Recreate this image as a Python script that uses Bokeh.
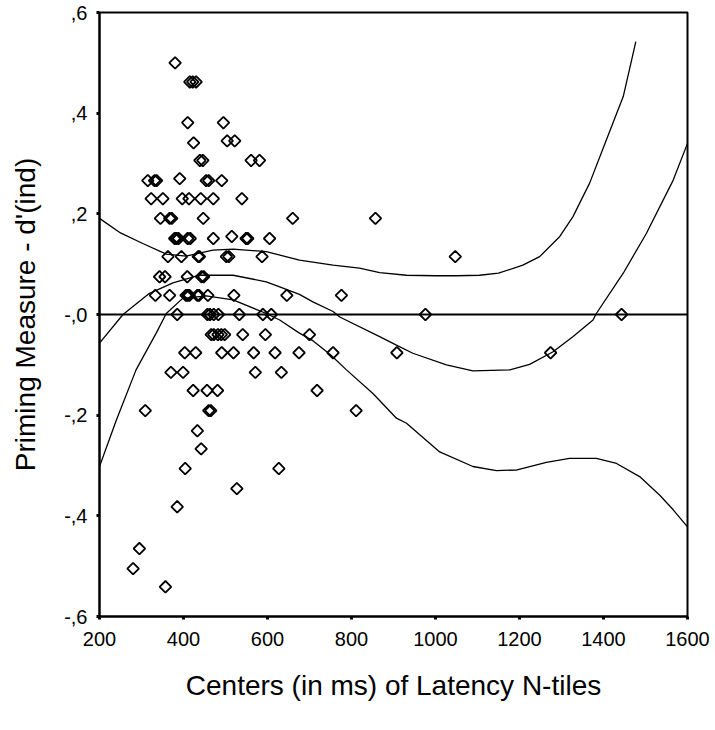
import numpy as np
from bokeh.plotting import figure
from bokeh.models import FixedTicker, Range1d, Span
from bokeh.embed import file_html
from bokeh.resources import INLINE

# ---- data: scatter points (latency N-tile centers in ms, priming d'(ind)) ----
latency_ms = [
    380,
    415, 422, 430,
    410, 495,
    424,
    504, 522,
    439, 446, 561, 581,
    315, 331, 336, 454, 460, 491, 391,
    323, 351, 397, 413, 441, 471, 539,
    345, 367, 372, 447, 660, 857,
    379, 383, 388, 410, 416, 471, 549, 553, 605, 515,
    363, 395, 435, 438, 502, 508, 587, 1047,
    343, 356, 409, 443, 448,
    333, 367, 406, 410, 414, 433, 437, 458, 520, 646, 776,
    385, 457, 463, 472, 483, 533, 589, 609, 976, 1443,
    466, 472, 482, 490, 498, 541, 595, 700,
    403, 429, 491, 519, 567, 618, 675, 756, 908, 1274,
    370, 399, 571, 633,
    423, 456, 481, 718,
    309, 460, 465, 811,
    433,
    442,
    404, 627,
    527,
    385,
    295,
    280,
    357,
]
priming_d = [
    0.500,
    0.462, 0.462, 0.462,
    0.381, 0.381,
    0.341,
    0.345, 0.345,
    0.306, 0.306, 0.306, 0.306,
    0.266, 0.266, 0.266, 0.266, 0.266, 0.266, 0.270,
    0.230, 0.230, 0.230, 0.230, 0.230, 0.230, 0.230,
    0.191, 0.191, 0.191, 0.191, 0.191, 0.191,
    0.151, 0.151, 0.151, 0.151, 0.151, 0.151, 0.151, 0.151, 0.151, 0.155,
    0.115, 0.115, 0.115, 0.115, 0.115, 0.115, 0.115, 0.115,
    0.075, 0.075, 0.075, 0.075, 0.075,
    0.038, 0.038, 0.038, 0.038, 0.038, 0.038, 0.038, 0.038, 0.038, 0.038, 0.038,
    0.0, 0.0, 0.0, 0.0, 0.0, 0.0, 0.0, 0.0, 0.0, 0.0,
    -0.040, -0.040, -0.040, -0.040, -0.040, -0.040, -0.040, -0.040,
    -0.076, -0.076, -0.076, -0.076, -0.076, -0.076, -0.076, -0.076, -0.076, -0.076,
    -0.115, -0.115, -0.115, -0.115,
    -0.151, -0.151, -0.151, -0.151,
    -0.191, -0.191, -0.191, -0.191,
    -0.231,
    -0.267,
    -0.306, -0.306,
    -0.346,
    -0.382,
    -0.465,
    -0.505,
    -0.541,
]

# ---- fitted curve and confidence band ----
upper_x = [200, 250, 303, 359, 406, 470, 518, 597, 676, 756, 819, 867, 931,
           1000, 1050, 1105, 1150, 1208, 1248, 1296, 1327, 1367, 1407, 1447, 1477]
upper_y = [0.191, 0.162, 0.141, 0.120, 0.116, 0.128, 0.130, 0.125, 0.108, 0.098,
           0.092, 0.083, 0.078, 0.077, 0.077, 0.078, 0.082, 0.098, 0.115, 0.155,
           0.194, 0.261, 0.347, 0.433, 0.542]

fit_x = [200, 256, 319, 375, 438, 518, 597, 629, 676, 708, 756, 772, 867, 907,
         946, 1026, 1089, 1177, 1224, 1280, 1327, 1375, 1383, 1447, 1502, 1566, 1600]
fit_y = [-0.057, 0.0, 0.042, 0.063, 0.078, 0.078, 0.065, 0.055, 0.040, 0.025,
         0.006, -0.005, -0.044, -0.061, -0.077, -0.100, -0.112, -0.110, -0.099,
         -0.074, -0.044, -0.011, 0.002, 0.082, 0.161, 0.267, 0.340]

lower_x = [200, 240, 287, 335, 359, 398, 454, 518, 597, 629, 676, 708, 750, 788,
           851, 907, 931, 1010, 1089, 1145, 1192, 1264, 1319, 1383, 1431, 1486,
           1534, 1566, 1600]
lower_y = [-0.302, -0.210, -0.110, -0.037, 0.002, 0.032, 0.037, 0.029, 0.002,
           -0.011, -0.037, -0.052, -0.080, -0.110, -0.157, -0.206, -0.216,
           -0.273, -0.302, -0.310, -0.309, -0.294, -0.286, -0.286, -0.296,
           -0.322, -0.359, -0.388, -0.422]

x_ticks = [200, 400, 600, 800, 1000, 1200, 1400, 1600]
y_ticks = [-0.6, -0.4, -0.2, 0.0, 0.2, 0.4, 0.6]
y_tick_labels = ["-,6", "-,4", "-,2", "-,0", ",2", ",4", ",6"]

FONT = "Liberation Sans"

p = figure(frame_width=588, frame_height=604,
           x_range=Range1d(200, 1600), y_range=Range1d(-0.6, 0.6),
           output_backend="svg", toolbar_location=None,
           min_border_left=99, min_border_top=12, min_border_right=24,
           min_border_bottom=94, background_fill_color="white",
           border_fill_color="white")

p.xgrid.visible = False
p.ygrid.visible = False
p.outline_line_color = "black"
p.outline_line_width = 2

p.xaxis.ticker = FixedTicker(ticks=x_ticks)
p.yaxis.ticker = FixedTicker(ticks=y_ticks)
p.yaxis.major_label_overrides = {t: s for t, s in zip(y_ticks, y_tick_labels)}

for ax in (p.xaxis[0], p.yaxis[0]):
    ax.axis_line_width = 2
    ax.axis_line_color = "black"
    ax.major_tick_line_width = 3
    ax.major_tick_line_color = "black"
    ax.major_tick_out = 3
    ax.major_tick_in = 0
    ax.minor_tick_out = 0
    ax.minor_tick_in = 0
    ax.major_label_text_font = FONT
    ax.major_label_text_font_size = "20px"
    ax.major_label_text_color = "black"
    ax.axis_label_text_font = FONT
    ax.axis_label_text_font_size = "28px"
    ax.axis_label_text_font_style = "normal"
    ax.axis_label_text_color = "black"

p.xaxis.axis_label = "Centers (in ms) of Latency N-tiles"
p.yaxis.axis_label = "Priming Measure - d'(ind)"
p.xaxis.major_label_standoff = 12
p.yaxis.major_label_standoff = 9
p.xaxis.axis_label_standoff = 21
p.yaxis.axis_label_standoff = 20

p.add_layout(Span(location=0, dimension="width", line_color="black", line_width=2))

p.line(upper_x, upper_y, line_color="black", line_width=1.3)
p.line(fit_x, fit_y, line_color="black", line_width=1.3)
p.line(lower_x, lower_y, line_color="black", line_width=1.3)

p.scatter(latency_ms, priming_d, marker="square", size=8.2, angle=np.pi / 4,
          fill_color="white", fill_alpha=0.0, line_color="black", line_width=1.8)

open("out.html", "w").write(file_html(p, INLINE))
